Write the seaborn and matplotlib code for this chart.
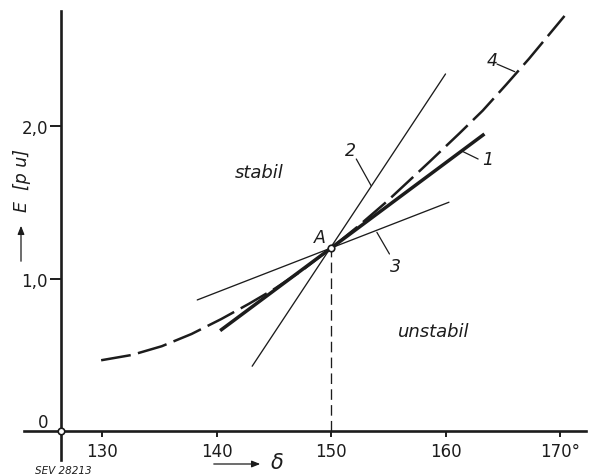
import numpy as np
import pandas as pd
import matplotlib
matplotlib.use("Agg")
import matplotlib.pyplot as plt
import seaborn as sns

# ---- data ----
curve4_delta = [129.9, 132.6, 135.2, 137.8, 140.4, 142.8, 145.1, 147.4, 150.0,
                152.4, 154.8, 158.6, 161.2, 163.25, 165.3, 167.3, 170.4]
curve4_E = [0.465, 0.50, 0.557, 0.637, 0.735, 0.834, 0.935, 1.05, 1.20,
            1.345, 1.50, 1.765, 1.95, 2.10, 2.27, 2.44, 2.72]

line1_delta = [140.3, 163.4]
line1_E = [0.659, 1.947]
line2_delta = [143.1, 160.0]
line2_E = [0.426, 2.34]
line3_delta = [138.3, 160.3]
line3_E = [0.86, 1.50]

A_delta, A_E = 150.0, 1.20

x_ticks = [130, 140, 150, 160, 170]
x_ticklabels = ["130", "140", "150", "160", "170°"]
y_ticks = [1.0, 2.0]
y_ticklabels = ["1,0", "2,0"]

INK = "#1c1c1c"

sns.set_theme(style="white")
plt.rcParams["font.family"] = ["DejaVu Sans"]

fig = plt.figure(figsize=(5.93, 4.77), dpi=100)
ax = fig.add_axes([0, 0, 1, 1])
ax.set_xlim(121.06, 172.89)
ax.set_ylim(-0.293, 2.831)
ax.patch.set_alpha(0)

# curve 4 (dashed)
df4 = pd.DataFrame({"delta": curve4_delta, "E": curve4_E})
sns.lineplot(data=df4, x="delta", y="E", ax=ax, color=INK, lw=1.8,
             linestyle=(0, (12, 3)), estimator=None, sort=False)

# tangent lines
sns.lineplot(x=line1_delta, y=line1_E, ax=ax, color=INK, lw=2.5, estimator=None,
             solid_capstyle="butt")
sns.lineplot(x=line2_delta, y=line2_E, ax=ax, color=INK, lw=0.95, estimator=None)
sns.lineplot(x=line3_delta, y=line3_E, ax=ax, color=INK, lw=0.95, estimator=None)

ax.set_xlabel("")
ax.set_ylabel("")

# axes as spines
for s in ["top", "right"]:
    ax.spines[s].set_visible(False)
ax.spines["left"].set_position(("data", 126.4))
ax.spines["bottom"].set_position(("data", 0))
ax.spines["left"].set_bounds(-0.19, 2.755)
ax.spines["bottom"].set_bounds(123.2, 172.3)
for s in ["left", "bottom"]:
    ax.spines[s].set_color(INK)
    ax.spines[s].set_linewidth(1.9)

ax.set_xticks(x_ticks)
ax.set_xticklabels(x_ticklabels)
ax.set_yticks(y_ticks)
ax.set_yticklabels(y_ticklabels)
ax.tick_params(axis="x", direction="out", length=4.5, width=1.4, color=INK,
               labelsize=12, labelcolor=INK, pad=3, bottom=True)
ax.tick_params(axis="y", direction="out", length=8, width=1.4, color=INK,
               labelsize=12, labelcolor=INK, pad=1.5, left=True)
ax.grid(False)

# vertical dashed line from A to axis
ax.vlines(A_delta, 0, A_E, colors=INK, lw=0.95, linestyles=(0, (8, 4)))

# point A and origin
ax.scatter([A_delta], [A_E], s=22, facecolor="white", edgecolor=INK, lw=1.2, zorder=5)
ax.scatter([126.4], [0], s=22, facecolor="white", edgecolor=INK, lw=1.2, zorder=5,
           clip_on=False)

# leader lines and labels
lead = dict(color=INK, lw=0.9)
ax.plot([161.4, 162.85], [1.836, 1.783], **lead)
ax.text(163.2, 1.78, "1", fontsize=12.5, style="italic", color=INK, va="center", ha="left")
ax.plot([153.5, 152.2], [1.608, 1.783], **lead)
ax.text(151.7, 1.84, "2", fontsize=12.5, style="italic", color=INK, va="center", ha="center")
ax.plot([154.0, 155.1], [1.303, 1.161], **lead)
ax.text(155.6, 1.085, "3", fontsize=12.5, style="italic", color=INK, va="center", ha="center")
ax.plot([166.05, 164.5], [2.355, 2.405], **lead)
ax.text(164.1, 2.434, "4", fontsize=12.5, style="italic", color=INK, va="center", ha="center")
ax.text(149.55, 1.27, "A", fontsize=12.5, style="italic", color=INK, va="center", ha="right")

ax.text(143.75, 1.697, "stabil", fontsize=13, style="italic", color=INK,
        va="center", ha="center")
ax.text(159.0, 0.659, "unstabil", fontsize=13, style="italic", color=INK,
        va="center", ha="center")
ax.text(125.3, 0.06, "0", fontsize=12, color=INK, va="center", ha="right")

# axis labels with arrows (figure pixel coordinates)
W, H = 593, 477
def fx(px): return px / W
def fy(py): return 1 - py / H

fig.text(fx(22), fy(180), "E  [p u]", rotation=90, fontsize=12.5, style="italic",
         color=INK, ha="center", va="center")
fig.add_artist(matplotlib.patches.FancyArrowPatch(
    (fx(21), fy(265)), (fx(21), fy(224)), transform=fig.transFigure,
    arrowstyle="-|>,head_length=5,head_width=2", color=INK, lw=0.9))

fig.text(fx(277), fy(463), "δ", fontsize=15, style="italic", color=INK,
         ha="center", va="center")
fig.add_artist(matplotlib.patches.FancyArrowPatch(
    (fx(211), fy(465)), (fx(263), fy(465)), transform=fig.transFigure,
    arrowstyle="-|>,head_length=5,head_width=2", color=INK, lw=0.9))

fig.text(fx(63), fy(471), "SEV 28213", fontsize=7.5, style="italic", color=INK,
         ha="center", va="center")

fig.savefig("out.png", dpi=100, facecolor="white")
